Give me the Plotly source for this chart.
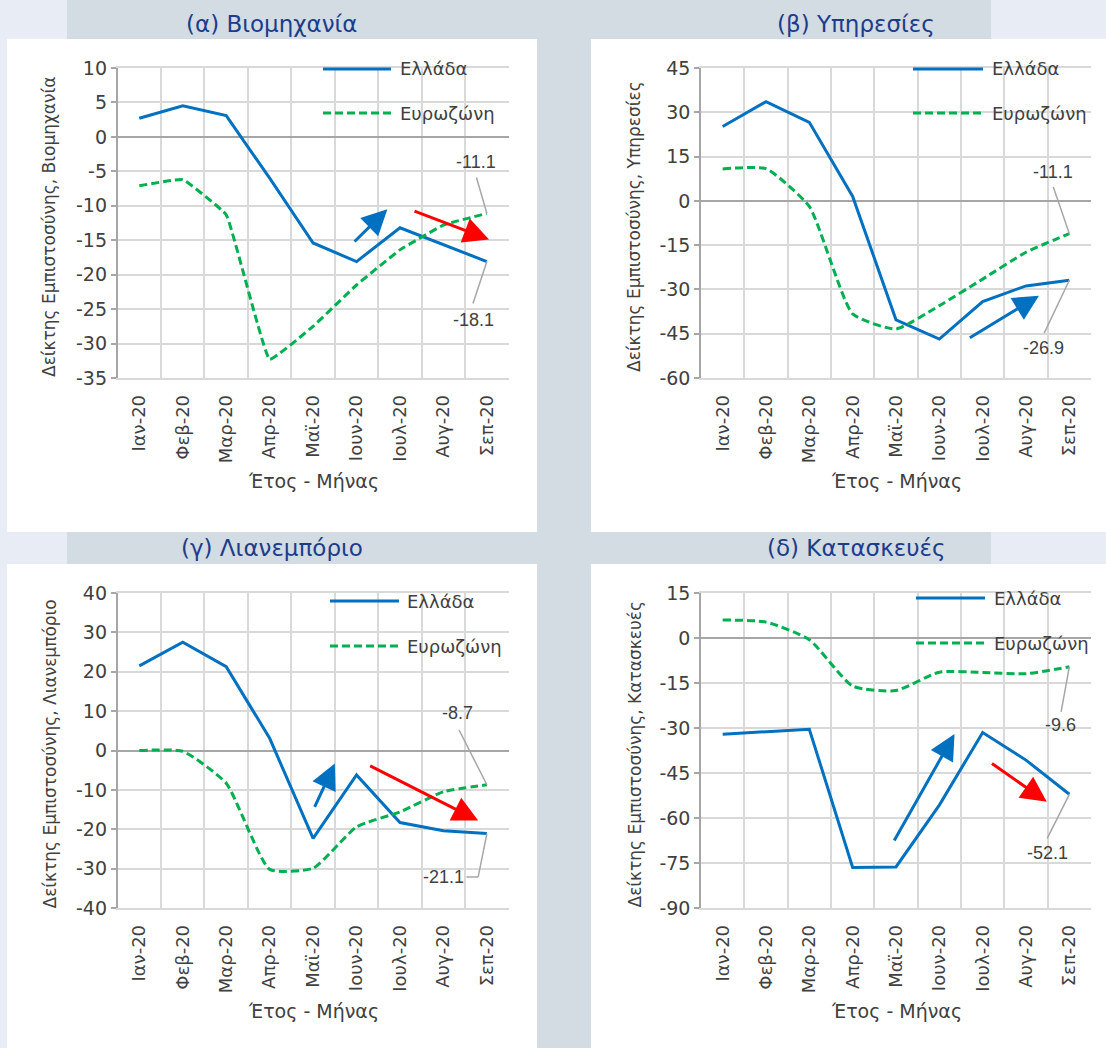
import plotly.graph_objects as go

# ---------------- data ----------------
months = ["Ιαν-20", "Φεβ-20", "Μαρ-20", "Απρ-20", "Μαϊ-20", "Ιουν-20", "Ιουλ-20", "Αυγ-20", "Σεπ-20"]

ind_gr = [2.7, 4.5, 3.1, -6.0, -15.4, -18.1, -13.2, -15.6, -18.1]
ind_ez = [-7.1, -6.2, -11.3, -32.3, -27.5, -21.5, -16.4, -12.8, -11.1]

srv_gr = [25.2, 33.6, 26.6, 1.5, -40.3, -46.8, -34.1, -28.8, -26.9]
srv_ez = [10.8, 10.9, -1.9, -38.3, -43.4, -35.5, -26.5, -17.4, -11.1]

ret_gr = [21.5, 27.5, 21.3, 3.1, -22.3, -6.2, -18.3, -20.4, -21.1]
ret_ez = [0.0, -0.2, -8.3, -30.2, -29.9, -19.4, -15.6, -10.5, -8.7]

con_gr = [-32.1, -31.3, -30.4, -76.5, -76.3, -55.7, -31.5, -40.7, -52.1]
con_ez = [6.0, 5.3, -0.6, -16.0, -17.5, -11.4, -11.5, -11.9, -9.6]

titles = ["(α) Βιομηχανία", "(β) Υπηρεσίες", "(γ) Λιανεμπόριο", "(δ) Κατασκευές"]
ytitles = ["Δείκτης Εμπιστοσύνης, Βιομηχανία", "Δείκτης Εμπιστοσύνης, Υπηρεσίες",
           "Δείκτης Εμπιστοσύνης, Λιανεμπόριο", "Δείκτης Εμπιστοσύνης, Κατασκευές"]
xtitle = "Έτος - Μήνας"
legend_names = ["Ελλάδα", "Ευρωζώνη"]
yranges = [(-35, 10, 5), (-60, 45, 15), (-40, 40, 10), (-90, 15, 15)]

# ---------------- geometry (px) ----------------
W, H = 1106, 1048
FONT = "DejaVu Sans"
BLUE = "#0070c0"
GREEN = "#00b050"
RED = "#ff0000"
TXT = "#404040"
GRID = "#d9d9d9"
AXC = "#a6a6a6"

def fx(x):
    return x / W

def fy(y):
    return 1 - y / H

# plot areas: (left, right, top, bottom)
areas = [(117.6, 508.6, 68, 378), (701, 1091, 68, 378),
         (117.6, 508.6, 593, 908), (701, 1091, 593, 908)]
panels_px = [(7, 537, 39, 532), (591, 1106, 39, 532), (7, 537, 564, 1048), (591, 1106, 564, 1048)]
title_pos = [(272, 24), (856, 24), (272, 548), (856, 548)]
ytitle_x = [49, 634, 49, 634]
xtitle_y = [481, 481, 1011, 1011]
legend_px = [(323, 391, 398, 69, 113), (913, 983, 990, 69, 113),
             (330, 399, 405, 601, 646), (916, 985, 992, 598, 643)]
green_smooth = [0.25, 0.5, 0.5, 0.6]

series = [(ind_gr, ind_ez), (srv_gr, srv_ez), (ret_gr, ret_ez), (con_gr, con_ez)]

fig = go.Figure()
shapes = []
annotations = []

# backgrounds
shapes.append(dict(type="rect", xref="paper", yref="paper", x0=fx(67), x1=fx(991), y0=0, y1=1,
                   fillcolor="#d3dbe3", line=dict(width=0), layer="below"))
for (l, r, t, b) in panels_px:
    shapes.append(dict(type="rect", xref="paper", yref="paper", x0=fx(l), x1=fx(r), y0=fy(b), y1=fy(t),
                       fillcolor="white", line=dict(width=0), layer="below"))

layout_axes = {}
for k in range(4):
    sfx = "" if k == 0 else str(k + 1)
    gr, ez = series[k]
    fig.add_trace(go.Scatter(x=months, y=gr, mode="lines", name=legend_names[0],
                             line=dict(color=BLUE, width=3), xaxis="x" + sfx, yaxis="y" + sfx,
                             showlegend=False))
    fig.add_trace(go.Scatter(x=months, y=ez, mode="lines", name=legend_names[1],
                             line=dict(color=GREEN, width=3, dash="8px,4px", shape="spline",
                                       smoothing=green_smooth[k]),
                             xaxis="x" + sfx, yaxis="y" + sfx, showlegend=False))
    l, r, t, b = areas[k]
    lo, hi, dt = yranges[k]
    tvals = list(range(lo, hi + 1, dt))
    ttext = [str(v) for v in tvals]  # plain hyphen-minus as in the original
    layout_axes["xaxis" + sfx] = dict(
        domain=[fx(l), fx(r)], anchor="y" + sfx, type="category", automargin=False,
        categoryorder="array", categoryarray=months, range=[-0.5, 8.5],
        tickson="boundaries", showgrid=True, gridcolor=GRID, gridwidth=1.5,
        ticks="", tickangle=-90, ticklabelstandoff=8,
        tickfont=dict(family=FONT, size=18, color=TXT),
        showline=True, linecolor=GRID, linewidth=1.5, mirror=True, zeroline=False)
    layout_axes["yaxis" + sfx] = dict(
        domain=[fy(b), fy(t)], anchor="x" + sfx, range=[lo, hi],
        tickmode="array", tickvals=tvals, ticktext=ttext,
        automargin=False,
        showgrid=True, gridcolor=GRID, gridwidth=1.5,
        zeroline=True, zerolinecolor=AXC, zerolinewidth=2,
        showline=True, linecolor=AXC, linewidth=1.5,
        ticks="outside", ticklen=5, tickcolor=AXC, tickwidth=1.5,
        tickfont=dict(family=FONT, size=19, color=TXT))

    # titles
    tx, ty = title_pos[k]
    annotations.append(dict(text=titles[k], xref="paper", yref="paper", x=fx(tx), y=fy(ty),
                            showarrow=False, xanchor="center", yanchor="middle",
                            font=dict(family=FONT, size=23, color="#1b3d8c")))
    annotations.append(dict(text=ytitles[k], xref="paper", yref="paper", x=fx(ytitle_x[k]),
                            y=fy((t + b) / 2 + 4), textangle=-90, showarrow=False,
                            xanchor="center", yanchor="middle",
                            font=dict(family=FONT, size=17, color=TXT)))
    annotations.append(dict(text=xtitle, xref="paper", yref="paper", x=fx((l + r) / 2), y=fy(xtitle_y[k]),
                            showarrow=False, xanchor="center", yanchor="middle",
                            font=dict(family=FONT, size=19, color=TXT)))
    # legend
    lx0, lx1, ltx, ly1, ly2 = legend_px[k]
    shapes.append(dict(type="line", xref="paper", yref="paper", x0=fx(lx0), x1=fx(lx1), y0=fy(ly1), y1=fy(ly1),
                       line=dict(color=BLUE, width=3)))
    shapes.append(dict(type="line", xref="paper", yref="paper", x0=fx(lx0), x1=fx(lx1), y0=fy(ly2), y1=fy(ly2),
                       line=dict(color=GREEN, width=3, dash="8px,4px")))
    annotations.append(dict(text=legend_names[0], xref="paper", yref="paper", x=fx(ltx), y=fy(ly1),
                            showarrow=False, xanchor="left", yanchor="middle",
                            font=dict(family=FONT, size=18, color=TXT)))
    annotations.append(dict(text=legend_names[1], xref="paper", yref="paper", x=fx(ltx), y=fy(ly2),
                            showarrow=False, xanchor="left", yanchor="middle",
                            font=dict(family=FONT, size=18, color=TXT)))

# value labels with leader lines: (panel, text, label x, label y, leader end x, leader end y, series value)
last = len(months) - 1
labels = [
    (0, f"{ind_ez[-1]:.1f}", 7.76, -3.6, 7.76, -5.9, ind_ez[-1]),
    (0, f"{ind_gr[-1]:.1f}", 7.69, -26.6, 7.68, -24.2, ind_gr[-1]),
    (1, f"{srv_ez[-1]:.1f}", 7.63, 9.8, 7.63, 4.7, srv_ez[-1]),
    (1, f"{srv_gr[-1]:.1f}", 7.40, -49.9, 7.42, -44.8, srv_gr[-1]),
    (2, f"{ret_ez[-1]:.1f}", 7.32, 9.45, 7.36, 5.2, ret_ez[-1]),
    (3, f"{con_ez[-1]:.1f}", 7.79, -29.0, 7.81, -24.6, con_ez[-1]),
    (3, f"{con_gr[-1]:.1f}", 7.49, -71.6, 7.49, -66.8, con_gr[-1]),
]
for (k, txt, lxp, lyp, ex, ey, val) in labels:
    sfx = "" if k == 0 else str(k + 1)
    annotations.append(dict(text=txt, xref="x" + sfx, yref="y" + sfx, x=lxp, y=lyp, showarrow=False,
                            xanchor="center", yanchor="middle",
                            font=dict(family="Liberation Sans", size=18, color=TXT)))
    shapes.append(dict(type="line", xref="x" + sfx, yref="y" + sfx, x0=last, y0=val, x1=ex, y1=ey,
                       line=dict(color=AXC, width=1.5)))

# retail Greece label with elbow leader
annotations.append(dict(text=f"{ret_gr[-1]:.1f}", xref="x3", yref="y3", x=7.0, y=-32.1, showarrow=False,
                        xanchor="center", yanchor="middle",
                        font=dict(family="Liberation Sans", size=18, color=TXT)))
shapes.append(dict(type="line", xref="x3", yref="y3", x0=last, y0=ret_gr[-1], x1=7.80, y1=-32.1,
                   line=dict(color=AXC, width=1.5)))
shapes.append(dict(type="line", xref="x3", yref="y3", x0=7.80, y0=-32.1, x1=7.53, y1=-32.1,
                   line=dict(color=AXC, width=1.5)))

# trend arrows: (panel, tail x, tail y, head x, head y, color)
arrows = [
    (0, 4.92, -15.4, 5.71, -10.5, BLUE),
    (0, 6.30, -10.7, 8.05, -14.9, RED),
    (1, 5.67, -46.7, 7.30, -32.1, BLUE),
    (2, 4.02, -14.7, 4.50, -3.3, BLUE),
    (2, 5.28, -3.7, 7.80, -17.8, RED),
    (3, 3.94, -68.0, 5.35, -32.0, BLUE),
    (3, 6.18, -41.5, 7.48, -54.6, RED),
]
for (k, x0, y0, x1, y1, c) in arrows:
    sfx = "" if k == 0 else str(k + 1)
    annotations.append(dict(text="", xref="x" + sfx, yref="y" + sfx, axref="x" + sfx, ayref="y" + sfx,
                            x=x1, y=y1, ax=x0, ay=y0, showarrow=True, arrowhead=2, arrowsize=1.7,
                            arrowwidth=3, arrowcolor=c, standoff=0, startstandoff=0))

fig.update_layout(width=W, height=H, margin=dict(l=0, r=0, t=0, b=0, pad=0, autoexpand=False),
                  paper_bgcolor="#e8edf5", plot_bgcolor="white", showlegend=False,
                  shapes=shapes, annotations=annotations, **layout_axes)

post = ("document.body.style.margin='0';document.body.style.padding='0';"
        "var d=document.getElementById('{plot_id}');d.style.position='absolute';"
        "d.style.left='0px';d.style.top='0px';")
fig.write_html("out.html", post_script=post, config={"displayModeBar": False})
